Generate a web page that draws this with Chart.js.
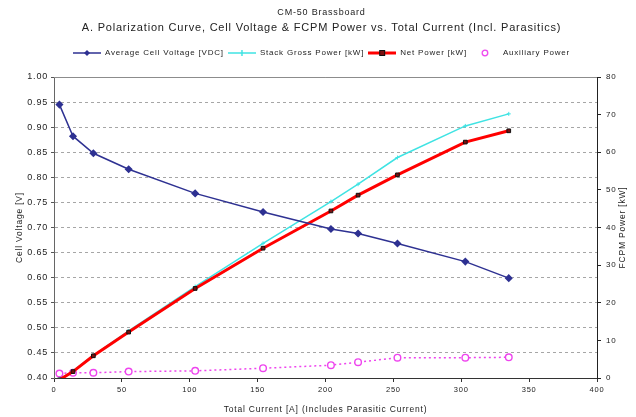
<!DOCTYPE html>
<html>
<head>
<meta charset="utf-8">
<script src="https://cdn.jsdelivr.net/npm/chart.js@4/dist/chart.umd.min.js"></script>
<style>
  html, body { margin: 0; padding: 0; background: #fff; }
  #wrap { width: 636px; height: 417px; }
</style>
</head>
<body>
<div id="wrap"><canvas id="chart" width="636" height="417"></canvas></div>
<script>
// total current [A], incl. parasitic current
const current = [4, 14, 29, 55, 104, 154, 204, 224, 253, 303, 335];
const cellVoltage = [0.945, 0.882, 0.848, 0.816, 0.768, 0.731, 0.697, 0.688, 0.668, 0.632, 0.599];
const stackGross = [-0.3, 1.9, 6.0, 12.5, 24.3, 35.8, 46.9, 51.5, 58.6, 67.0, 70.2];
const netPower = [-0.5, 1.7, 5.9, 12.2, 23.8, 34.5, 44.4, 48.6, 54.0, 62.7, 65.7];
const auxPower = [1.2, 1.4, 1.4, 1.7, 1.9, 2.6, 3.4, 4.2, 5.4, 5.4, 5.5];

const seriesNames = ['Average Cell Voltage [VDC]', 'Stack Gross Power [kW]', 'Net Power [kW]', 'Auxiliary Power'];

const FONT = 'Arial, "Liberation Sans", sans-serif';
const BLUE = '#2e3192';
const CYAN = '#3fe3e3';
const RED = '#ff0000';
const MAGENTA = '#ee44ee';
const TEXT = '#222';

function pts(ys) {
    return current.map((x, i) => ({ x: x, y: ys[i] }));
}

// small legend swatches: line + marker like the spreadsheet legend
function swatch(draw) {
    const c = document.createElement('canvas');
    c.width = 28; c.height = 10;
    draw(c.getContext('2d'));
    return c;
}
const legendIcons = [
    swatch(ctx => {
        ctx.strokeStyle = BLUE; ctx.lineWidth = 1.5;
        ctx.beginPath(); ctx.moveTo(0, 5); ctx.lineTo(28, 5); ctx.stroke();
        ctx.fillStyle = BLUE;
        ctx.beginPath(); ctx.moveTo(14, 2); ctx.lineTo(17, 5); ctx.lineTo(14, 8); ctx.lineTo(11, 5); ctx.closePath(); ctx.fill();
    }),
    swatch(ctx => {
        ctx.strokeStyle = CYAN; ctx.lineWidth = 1.5;
        ctx.beginPath(); ctx.moveTo(0, 5); ctx.lineTo(28, 5); ctx.stroke();
        ctx.beginPath(); ctx.moveTo(14, 2); ctx.lineTo(14, 8); ctx.stroke();
    }),
    swatch(ctx => {
        ctx.strokeStyle = RED; ctx.lineWidth = 3;
        ctx.beginPath(); ctx.moveTo(0, 5); ctx.lineTo(28, 5); ctx.stroke();
        ctx.fillStyle = '#7a1010'; ctx.fillRect(11.5, 2.5, 5, 5);
        ctx.strokeStyle = '#111'; ctx.lineWidth = 1; ctx.strokeRect(11.5, 2.5, 5, 5);
    }),
    swatch(ctx => {
        ctx.strokeStyle = MAGENTA; ctx.lineWidth = 1.3;
        ctx.beginPath(); ctx.arc(14, 5, 2.8, 0, Math.PI * 2); ctx.stroke();
    })
];

// the scanned chart has widely spaced lettering
const spacing = {
    id: 'spacing',
    beforeLayout(chart) { chart.ctx.letterSpacing = '0.8px'; },
    beforeDraw(chart) { chart.ctx.letterSpacing = '0.8px'; },
    afterInit(chart) {
        const lg = chart.legend;
        const fit = lg.fit;
        lg.fit = function () {
            fit.call(this);
            this.height += 10;
        };
    }
};

const plotFrame = {
    id: 'plotFrame',
    afterDraw(chart) {
        const { ctx, chartArea: a } = chart;
        ctx.save();
        ctx.strokeStyle = '#8c8c8c';
        ctx.lineWidth = 1;
        ctx.beginPath();
        ctx.moveTo(a.left, a.top + 0.5);
        ctx.lineTo(a.right, a.top + 0.5);
        ctx.stroke();
        // right axis title reads bottom-to-top, like the left one
        ctx.translate(623, (a.top + a.bottom) / 2);
        ctx.rotate(-Math.PI / 2);
        ctx.fillStyle = TEXT;
        ctx.font = '8.5px ' + FONT;
        ctx.textAlign = 'center';
        ctx.textBaseline = 'middle';
        ctx.fillText('FCPM Power [kW]', 0, 0);
        ctx.restore();
    }
};

new Chart(document.getElementById('chart'), {
    type: 'scatter',
    data: {
        datasets: [
            {
                label: seriesNames[0],
                data: pts(cellVoltage),
                yAxisID: 'yV',
                showLine: true,
                borderColor: BLUE,
                backgroundColor: BLUE,
                borderWidth: 1.5,
                pointStyle: 'rectRot',
                pointRadius: 3,
                order: 1
            },
            {
                label: seriesNames[1],
                data: pts(stackGross),
                yAxisID: 'yP',
                showLine: true,
                borderColor: CYAN,
                backgroundColor: CYAN,
                borderWidth: 1.5,
                pointStyle: 'cross',
                pointRadius: 2,
                pointBorderWidth: 1,
                order: 3
            },
            {
                label: seriesNames[2],
                data: pts(netPower),
                yAxisID: 'yP',
                showLine: true,
                borderColor: RED,
                backgroundColor: '#7a1010',
                pointBorderColor: '#111',
                pointBorderWidth: 1,
                borderWidth: 3,
                pointStyle: 'rect',
                pointRadius: 2.6,
                order: 2
            },
            {
                label: seriesNames[3],
                data: pts(auxPower),
                yAxisID: 'yP',
                showLine: true,
                borderColor: MAGENTA,
                backgroundColor: '#ffffff',
                borderWidth: 1.5,
                borderDash: [2, 3],
                pointStyle: 'circle',
                pointRadius: 3.3,
                pointBorderWidth: 1.4,
                order: 4
            }
        ]
    },
    options: {
        responsive: false,
        animation: false,
        layout: { padding: { left: 15, right: 8, top: 0, bottom: 2 } },
        plugins: {
            tooltip: { enabled: false },
            title: {
                display: true,
                text: 'CM-50 Brassboard',
                color: TEXT,
                font: { family: FONT, size: 9, weight: 'normal', lineHeight: 1.2 },
                padding: { top: 7, bottom: 0 }
            },
            subtitle: {
                display: true,
                text: 'A. Polarization Curve, Cell Voltage & FCPM Power vs. Total Current (Incl. Parasitics)',
                color: TEXT,
                font: { family: FONT, size: 11, weight: 'normal', lineHeight: 1.2 },
                padding: { top: 4, bottom: 10 }
            },
            legend: {
                display: true,
                labels: {
                    color: TEXT,
                    font: { family: FONT, size: 8 },
                    usePointStyle: true,
                    pointStyleWidth: 28,
                    padding: 4,
                    sort: (a, b) => a.datasetIndex - b.datasetIndex,
                    generateLabels(chart) {
                        const items = Chart.defaults.plugins.legend.labels.generateLabels(chart);
                        items.forEach(it => { it.pointStyle = legendIcons[it.datasetIndex]; });
                        return items;
                    }
                }
            }
        },
        scales: {
            x: {
                type: 'linear',
                min: 0,
                max: 400,
                ticks: { stepSize: 50, color: TEXT, font: { family: FONT, size: 7.5 }, padding: 3 },
                grid: { display: true, drawOnChartArea: false, drawTicks: true, tickLength: 4, color: '#333' },
                border: { color: '#333', width: 1 },
                title: { display: true, text: 'Total Current [A] (Includes Parasitic Current)', color: TEXT, font: { family: FONT, size: 8.5 }, padding: { top: 3, bottom: 0 } },
                afterFit(scale) { scale.height = 37; }
            },
            yV: {
                position: 'left',
                min: 0.4,
                max: 1.0,
                ticks: { stepSize: 0.05, color: TEXT, font: { family: FONT, size: 9 }, padding: 3, callback: v => v.toFixed(2) },
                grid: { color: '#a6a6a6', lineWidth: 1, drawTicks: true, tickLength: 3, tickColor: '#555', tickBorderDash: [] },
                border: { color: '#666', width: 1, dash: [3, 3] },
                title: { display: true, text: 'Cell Voltage [V]', color: TEXT, font: { family: FONT, size: 8.5 }, padding: { top: 0, bottom: 2 } },
                afterFit(scale) { scale.width = 39; }
            },
            yP: {
                position: 'right',
                min: 0,
                max: 80,
                ticks: { stepSize: 10, color: TEXT, font: { family: FONT, size: 8 }, padding: 5 },
                grid: { drawOnChartArea: false, drawTicks: true, tickLength: 4, color: '#222' },
                border: { color: '#222', width: 1 },
                title: { display: false },
                afterFit(scale) { scale.width = 31; }
            }
        }
    },
    plugins: [spacing, plotFrame]
});
</script>
</body>
</html>
